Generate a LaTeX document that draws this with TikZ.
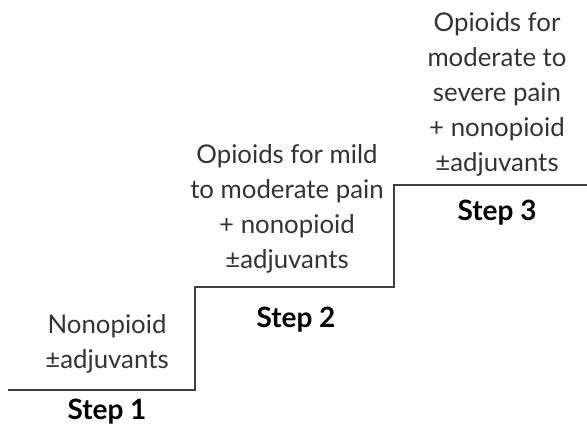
\documentclass[tikz,border=0pt]{standalone}
\usepackage{fontspec}
\setmainfont{Lato}
\begin{document}
\begin{tikzpicture}[x=1pt,y=1pt,
  stair/.style={draw=black!75, line width=2pt, line join=miter},
  txt/.style={align=center, text=black!80, inner sep=0pt, font=\fontsize{25.8}{35}\selectfont},
  steplabel/.style={text=black, inner sep=0pt, font=\fontsize{28}{30}\bfseries\selectfont}]
\useasboundingbox (0,0) rectangle (587,430);
\coordinate (s0) at (8,40);
\coordinate (s1) at (195,40);
\coordinate (s2) at (195,143);
\coordinate (s3) at (394,143);
\coordinate (s4) at (394,245);
\coordinate (s5) at (587,245);
\draw[stair] (s0) -- (s1) -- (s2) -- (s3) -- (s4) -- (s5);
\node[txt] (t1) at (107,86) {Nonopioid\\±adjuvants};
\node[txt] (t2) at (287,221) {Opioids for mild\\to moderate pain\\+ nonopioid\\±adjuvants};
\node[txt] (t3) at (497,336) {Opioids for\\moderate to\\severe pain\\+ nonopioid\\±adjuvants};
\node[steplabel] (l1) at (107,18) {Step 1};
\node[steplabel] (l2) at (296,110) {Step 2};
\node[steplabel] (l3) at (497,217) {Step 3};
\end{tikzpicture}
\end{document}
